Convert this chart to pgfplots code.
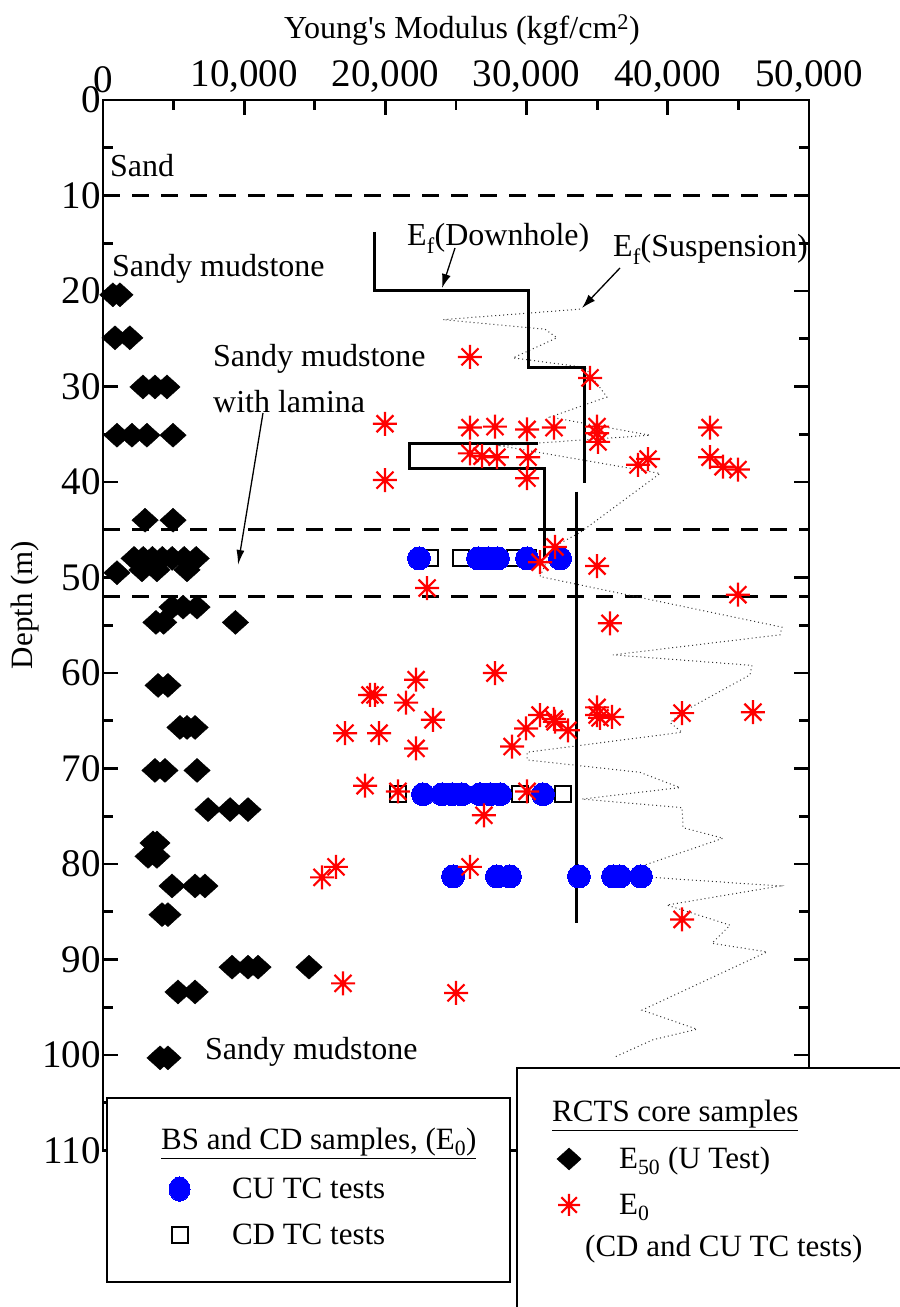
\documentclass[border=0pt]{standalone}
\usepackage{pgfplots}
\pgfplotsset{compat=1.18}
\usepackage{fontspec}
\setmainfont{Liberation Serif}
\usetikzlibrary{arrows.meta}

\pgfdeclareplotmark{ast8}{%
 \pgfpathmoveto{\pgfqpoint{0pt}{\pgfplotmarksize}}\pgfpathlineto{\pgfqpoint{0pt}{-\pgfplotmarksize}}%
 \pgfpathmoveto{\pgfqpoint{\pgfplotmarksize}{0pt}}\pgfpathlineto{\pgfqpoint{-\pgfplotmarksize}{0pt}}%
 \pgfpathmoveto{\pgfqpoint{.7071\pgfplotmarksize}{.7071\pgfplotmarksize}}\pgfpathlineto{\pgfqpoint{-.7071\pgfplotmarksize}{-.7071\pgfplotmarksize}}%
 \pgfpathmoveto{\pgfqpoint{-.7071\pgfplotmarksize}{.7071\pgfplotmarksize}}\pgfpathlineto{\pgfqpoint{.7071\pgfplotmarksize}{-.7071\pgfplotmarksize}}%
 \pgfusepathqstroke}
\pgfdeclareplotmark{dia}{%
 \pgfpathmoveto{\pgfqpoint{0pt}{\pgfplotmarksize}}%
 \pgfpathlineto{\pgfqpoint{1.1\pgfplotmarksize}{0pt}}%
 \pgfpathlineto{\pgfqpoint{0pt}{-\pgfplotmarksize}}%
 \pgfpathlineto{\pgfqpoint{-1.1\pgfplotmarksize}{0pt}}%
 \pgfpathclose\pgfusepathqfillstroke}

\newcommand{\ann}{\fontsize{32bp}{34bp}\selectfont}
\newcommand{\leg}{\fontsize{31bp}{33bp}\selectfont}

\begin{document}
\begin{tikzpicture}
\path[use as bounding box] (0,0) rectangle (900bp,1307bp);
\begin{axis}[
  at={(103bp,156.5bp)}, anchor=south west, scale only axis,
  width=706bp, height=1050.5bp,
  xmin=0, xmax=50000, ymin=0, ymax=110, y dir=reverse,
  axis line style={line width=2.8bp},
  xtick={0,10000,...,50000}, minor xtick={5000,15000,...,45000},
  ytick={0,10,...,110}, minor ytick={5,15,...,105},
  major tick length=15bp, minor tick length=10bp,
  every tick/.style={black, line width=2.8bp},
  tick align=inside,
  xticklabel pos=right, yticklabel pos=left,
  scaled x ticks=false,
  /pgf/number format/assume math mode=true,
  /pgf/number format/1000 sep={,},
  ticklabel style={font=\fontsize{39bp}{41bp}\selectfont, inner sep=2bp},
  xticklabel style={yshift=5bp},
  clip=false,
]
% layer boundaries
\addplot[black, line width=2.8bp, dash pattern=on 17bp off 12bp] coordinates {(0,10) (50000,10)};
\addplot[black, line width=2.8bp, dash pattern=on 17bp off 12bp] coordinates {(0,45) (50000,45)};
\addplot[black, line width=2.8bp, dash pattern=on 17bp off 12bp] coordinates {(0,52) (50000,52)};
% Ef suspension
\addplot[black!80, line width=1bp, dash pattern=on 1bp off 3bp] coordinates {
(33780,21.9) (24080,23.0) (31300,24.0) (32150,24.9) (29040,27.0) (34130,28.0)
(35690,31.1) (31660,33.2) (38740,35.1) (28120,36.2) (39450,39.1) (33780,45.3)
(31870,46.8) (30950,49.9) (48090,55.2) (47950,56.0) (36120,58.1) (45960,59.2)
(45820,60.2) (41010,64.1) (40160,65.2) (41010,66.2) (30030,68.3) (30030,69.1)
(38030,70.4) (40860,72.0) (33920,73.2) (41010,74.1) (41080,76.2) (43910,77.3)
(38390,80.1) (38880,81.4) (47950,82.3) (39940,84.3) (44410,86.4) (43130,88.3)
(47030,89.2) (38170,95.3) (42070,97.3) (38950,98.4) (36260,100.2)};
% Ef downhole
\addplot[black, line width=3bp] coordinates {(19260,13.8) (19260,19.9) (30100,19.9) (30100,28.0) (34130,28.0) (34130,40.1)};
\addplot[black, line width=3bp] coordinates {(30810,36.0) (21740,36.0) (21740,38.6) (31300,38.6) (31300,48.0)};
\addplot[black, line width=3bp] coordinates {(33500,41.0) (33500,86.2)};
% CD TC tests
\addplot[only marks, mark=square, mark size=8bp, mark options={black, line width=2bp}] coordinates {
(23160,48) (25350,48) (29180,48) (30100,48) (20890,72.7) (29530,72.7) (32580,72.7)};
% CU TC tests
\addplot[only marks, mark=*, mark size=11.5bp, mark options={draw=blue, fill=blue, line width=0pt}] coordinates {
(22380,48) (26560,48) (27270,48) (27970,48) (30030,48) (32370,48)
(22660,72.7) (24010,72.7) (24720,72.7) (25420,72.7) (26700,72.7) (27410,72.7) (28120,72.7) (31160,72.7)
(24790,81.3) (27900,81.3) (28820,81.3) (33710,81.3) (36120,81.3) (36610,81.3) (38100,81.3)};
% E50 (U test)
\addplot[only marks, mark=dia, mark size=12bp, mark options={black, fill=black, line width=0.4bp}] coordinates {
(700,20.4) (1200,20.4) (850,24.9) (1900,24.9)
(2830,30.05) (3680,30.05) (4530,30.05)
(990,35.1) (2050,35.1) (3110,35.1) (4960,35.1)
(2980,44.0) (4960,44.0)
(2200,48.0) (2850,48.0) (3500,48.0) (4200,48.0) (4900,48.0) (5750,48.0) (6600,48.0)
(990,49.5) (2760,49.2) (3820,49.2) (5950,49.2)
(4890,53.1) (5670,53.1) (6660,53.1)
(3750,54.7) (4300,54.7) (9380,54.7)
(3900,61.3) (4600,61.3)
(5450,65.7) (5950,65.7) (6520,65.7)
(3680,70.2) (4390,70.2) (6660,70.2)
(7440,74.3) (9000,74.3) (10270,74.3)
(3540,77.8) (3820,77.8) (3190,79.2) (3820,79.2)
(4890,82.3) (6520,82.3) (7220,82.3)
(4180,85.3) (4600,85.3)
(9140,90.8) (10270,90.8) (10980,90.8) (14590,90.8)
(5310,93.4) (6520,93.4)
(4040,100.3) (4600,100.3)};
% E0
\addplot[only marks, mark=ast8, mark size=12bp, mark options={red, line width=2.2bp}] coordinates {
(25990,26.9) (34490,29.1) (19970,33.9) (19970,39.8)
(25990,34.3) (27760,34.2) (30030,34.5) (31940,34.3)
(34990,34.2) (34990,34.9) (35060,35.8) (42990,34.3)
(25990,37.0) (26840,37.3) (27900,37.4) (30100,37.4) (30030,39.6)
(37890,38.2) (38600,37.6) (42990,37.4) (43910,38.4) (44970,38.7)
(32010,46.8) (30950,48.4) (34990,48.8)
(22950,51.1) (44970,51.8) (35900,54.8)
(27760,60.0) (22170,60.7) (18910,62.3) (19260,62.3) (21460,63.1) (23370,64.9)
(17140,66.3) (19550,66.3) (22170,67.9) (18560,71.8) (20890,72.4) (26980,74.9)
(16500,80.3) (15510,81.4) (25990,80.3) (17000,92.5) (25000,93.5)
(30950,64.4) (31940,64.8) (32010,65.1) (32930,66.0) (29960,65.8) (28970,67.7)
(34990,63.6) (34990,64.4) (35200,64.7) (36050,64.6) (41010,64.2) (46030,64.1)
(30030,72.4) (41010,85.8)};
\end{axis}

% titles
\node[font=\fontsize{32bp}{34bp}\selectfont] at (462bp,1277bp) {Young\textquotesingle s Modulus (kgf/cm\textsuperscript{2})};
\node[rotate=90, font=\fontsize{31bp}{33bp}\selectfont] at (25bp,702bp) {Depth (m)};

% annotations
\node[anchor=base west, inner sep=0pt, font=\ann] at (110bp,1130bp) {Sand};
\node[anchor=base west, inner sep=0pt, font=\ann] at (112bp,1030bp) {Sandy mudstone};
\node[anchor=base west, inner sep=0pt, font=\ann] at (213bp,940bp) {Sandy mudstone};
\node[anchor=base west, inner sep=0pt, font=\ann] at (213bp,894bp) {with lamina};
\node[anchor=base west, inner sep=0pt, font=\ann] at (407bp,1061bp) {E\textsubscript{f}(Downhole)};
\node[anchor=base west, inner sep=0pt, font=\ann] at (613bp,1050bp) {E\textsubscript{f}(Suspension)};
\node[anchor=base west, inner sep=0pt, font=\ann] at (205bp,247bp) {Sandy mudstone};
\draw[line width=1.3bp, -{Latex[length=15bp,width=8bp]}] (263bp,894bp) -- (238bp,742bp);
\draw[line width=1.3bp, -{Latex[length=14bp,width=9bp]}] (455bp,1059bp) -- (442bp,1019bp);
\draw[line width=1.3bp, -{Latex[length=14bp,width=9bp]}] (620bp,1039bp) -- (582bp,999bp);

% legend frames
\draw[line width=1.8bp, fill=white] (107bp,25bp) rectangle (510bp,209bp);
\draw[line width=1.8bp, fill=white] (517bp,-30bp) rectangle (930bp,239bp);
\node[anchor=base west, inner sep=0pt, font=\leg] at (161bp,157bp) {\underline{BS and CD samples, (E\textsubscript{0})}};
\node[anchor=base west, inner sep=0pt, font=\leg] at (552bp,185bp) {\underline{RCTS core samples}};
\node[anchor=base west, inner sep=0pt, font=\leg] at (585bp,50bp) {(CD and CU TC tests)};

% legend 1
\begin{axis}[
  at={(103bp,156.5bp)}, anchor=south west, scale only axis,
  width=706bp, height=1050.5bp, xmin=0, xmax=1, ymin=0, ymax=1, hide axis,
  legend image code/.code={\draw[#1] plot coordinates {(0bp,9bp)};},
  legend style={at={(0.0935,-0.0252)}, anchor=north west, draw=none, fill=none,
    inner sep=0pt, outer sep=0pt, row sep=18bp, font=\leg,
    nodes={inner sep=0pt, text height=20bp, text depth=8bp, anchor=base west},
    /tikz/every odd column/.append style={column sep=42bp}},
]
\addlegendimage{only marks, mark=*, mark size=10.5bp, mark options={draw=blue, fill=blue, line width=0pt, yscale=1.15}}
\addlegendentry{CU TC tests}
\addlegendimage{only marks, mark=square, mark size=8bp, mark options={black, line width=2bp}}
\addlegendentry{CD TC tests}
\end{axis}

% legend 2
\begin{axis}[
  at={(103bp,156.5bp)}, anchor=south west, scale only axis,
  width=706bp, height=1050.5bp, xmin=0, xmax=1, ymin=0, ymax=1, hide axis,
  legend image code/.code={\draw[#1] plot coordinates {(0bp,10bp)};},
  legend style={at={(0.643,0.0024)}, anchor=north west, draw=none, fill=none,
    inner sep=0pt, outer sep=0pt, row sep=17bp, font=\leg,
    nodes={inner sep=0pt, text height=20bp, text depth=8bp, anchor=base west},
    /tikz/every odd column/.append style={column sep=38bp}},
]
\addlegendimage{only marks, mark=dia, mark size=11bp, mark options={black, fill=black, line width=0.4bp}}
\addlegendentry{E\textsubscript{50} (U Test)}
\addlegendimage{only marks, mark=ast8, mark size=11bp, mark options={red, line width=2.2bp}}
\addlegendentry{E\textsubscript{0}}
\end{axis}
\end{tikzpicture}
\end{document}
